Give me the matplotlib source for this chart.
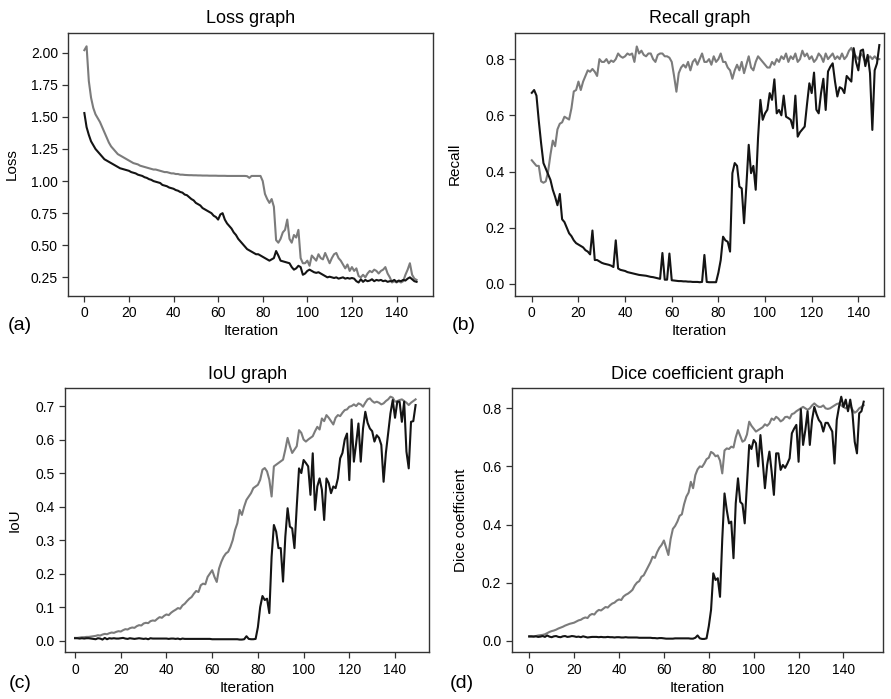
import matplotlib
matplotlib.use("Agg")
import matplotlib.pyplot as plt
import numpy as np

plt.rcParams['font.family'] = ['Liberation Sans', 'DejaVu Sans']

iterations = list(range(150))

loss_gray = [2.02, 2.05, 1.78, 1.65, 1.57, 1.52, 1.49, 1.46, 1.42, 1.38,
             1.34, 1.30, 1.27, 1.25, 1.23, 1.21, 1.20, 1.19, 1.18, 1.17,
             1.16, 1.15, 1.14, 1.135, 1.13, 1.12, 1.115, 1.11, 1.105, 1.10,
             1.095, 1.09, 1.09, 1.085, 1.08, 1.075, 1.07, 1.07, 1.065, 1.06,
             1.06, 1.055, 1.055, 1.05, 1.05, 1.048, 1.047, 1.046, 1.046, 1.045,
             1.045, 1.044, 1.044, 1.043, 1.043, 1.043, 1.042, 1.042, 1.042, 1.042,
             1.041, 1.041, 1.041, 1.041, 1.040, 1.040, 1.040, 1.040, 1.040, 1.040,
             1.040, 1.040, 1.040, 1.038, 1.025, 1.040, 1.040, 1.040, 1.040, 1.040,
             1.00, 0.90, 0.86, 0.83, 0.86, 0.80, 0.54, 0.52, 0.55, 0.60,
             0.62, 0.70, 0.55, 0.52, 0.58, 0.56, 0.62, 0.40, 0.36, 0.36,
             0.38, 0.34, 0.42, 0.40, 0.38, 0.43, 0.40, 0.39, 0.44, 0.40,
             0.36, 0.40, 0.43, 0.44, 0.40, 0.38, 0.35, 0.32, 0.35, 0.30,
             0.33, 0.30, 0.32, 0.26, 0.25, 0.27, 0.25, 0.28, 0.30, 0.29,
             0.31, 0.30, 0.28, 0.30, 0.31, 0.33, 0.28, 0.25, 0.21, 0.22,
             0.21, 0.22, 0.21, 0.22, 0.27, 0.31, 0.36, 0.27, 0.24, 0.23]

loss_black = [1.53, 1.42, 1.36, 1.31, 1.28, 1.25, 1.23, 1.21, 1.19, 1.17,
              1.16, 1.15, 1.14, 1.13, 1.12, 1.11, 1.10, 1.095, 1.09, 1.085,
              1.08, 1.07, 1.065, 1.06, 1.05, 1.045, 1.04, 1.03, 1.025, 1.015,
              1.01, 1.00, 0.995, 0.99, 0.985, 0.97, 0.965, 0.96, 0.95, 0.945,
              0.94, 0.93, 0.925, 0.915, 0.91, 0.895, 0.89, 0.875, 0.86, 0.85,
              0.83, 0.82, 0.81, 0.79, 0.78, 0.77, 0.76, 0.75, 0.73, 0.72,
              0.70, 0.74, 0.75, 0.70, 0.67, 0.65, 0.63, 0.60, 0.58, 0.55,
              0.53, 0.51, 0.49, 0.47, 0.46, 0.45, 0.44, 0.43, 0.43, 0.42,
              0.41, 0.40, 0.39, 0.38, 0.39, 0.40, 0.455, 0.42, 0.38, 0.375,
              0.37, 0.365, 0.36, 0.33, 0.31, 0.32, 0.34, 0.33, 0.27, 0.28,
              0.30, 0.31, 0.30, 0.29, 0.285, 0.29, 0.28, 0.27, 0.26, 0.25,
              0.255, 0.25, 0.245, 0.25, 0.24, 0.245, 0.25, 0.24, 0.245, 0.24,
              0.245, 0.24, 0.22, 0.21, 0.235, 0.215, 0.23, 0.22, 0.225, 0.235,
              0.22, 0.23, 0.225, 0.23, 0.22, 0.225, 0.215, 0.22, 0.22, 0.23,
              0.215, 0.225, 0.22, 0.23, 0.225, 0.24, 0.25, 0.235, 0.22, 0.215]

recall_gray = [0.44, 0.43, 0.42, 0.42, 0.365, 0.36, 0.365, 0.40, 0.46, 0.51,
               0.49, 0.55, 0.57, 0.575, 0.595, 0.59, 0.585, 0.625, 0.685, 0.69,
               0.72, 0.69, 0.72, 0.74, 0.76, 0.755, 0.765, 0.755, 0.74, 0.80,
               0.79, 0.79, 0.80, 0.785, 0.795, 0.79, 0.80, 0.82, 0.81, 0.805,
               0.81, 0.82, 0.815, 0.82, 0.79, 0.845, 0.82, 0.83, 0.815, 0.81,
               0.82, 0.82, 0.80, 0.79, 0.815, 0.82, 0.82, 0.81, 0.81, 0.805,
               0.79, 0.74, 0.684, 0.75, 0.77, 0.78, 0.77, 0.79, 0.76, 0.79,
               0.80, 0.78, 0.80, 0.82, 0.79, 0.79, 0.80, 0.78, 0.81, 0.79,
               0.80, 0.82, 0.79, 0.79, 0.77, 0.76, 0.73, 0.76, 0.78, 0.76,
               0.79, 0.75, 0.78, 0.81, 0.77, 0.76, 0.79, 0.81, 0.80, 0.79,
               0.78, 0.77, 0.77, 0.79, 0.78, 0.80, 0.79, 0.81, 0.80, 0.82,
               0.79, 0.81, 0.80, 0.82, 0.79, 0.80, 0.83, 0.81, 0.82, 0.80,
               0.81, 0.79, 0.80, 0.82, 0.81, 0.79, 0.82, 0.80, 0.81, 0.82,
               0.80, 0.81, 0.80, 0.82, 0.80, 0.81, 0.83, 0.84, 0.82, 0.81,
               0.80, 0.82, 0.81, 0.79, 0.80, 0.81, 0.80, 0.81, 0.80, 0.80]

recall_black = [0.68, 0.69, 0.67, 0.58, 0.50, 0.43, 0.41, 0.39, 0.37, 0.335,
                0.31, 0.28, 0.32, 0.23, 0.22, 0.20, 0.18, 0.17, 0.155, 0.145,
                0.14, 0.135, 0.13, 0.12, 0.115, 0.105, 0.19, 0.085, 0.085, 0.08,
                0.075, 0.072, 0.07, 0.068, 0.065, 0.06, 0.155, 0.055, 0.05, 0.048,
                0.046, 0.042, 0.04, 0.038, 0.036, 0.034, 0.032, 0.031, 0.03, 0.029,
                0.027, 0.025, 0.024, 0.022, 0.02, 0.018, 0.11, 0.015, 0.015, 0.108,
                0.013, 0.012, 0.011, 0.01, 0.01, 0.009, 0.009, 0.008, 0.008, 0.007,
                0.007, 0.007, 0.006, 0.007, 0.103, 0.007, 0.006, 0.006, 0.006, 0.006,
                0.04, 0.085, 0.168, 0.155, 0.15, 0.115, 0.394, 0.43, 0.42, 0.346,
                0.34, 0.216, 0.35, 0.495, 0.394, 0.42, 0.335, 0.52, 0.655, 0.584,
                0.607, 0.62, 0.679, 0.655, 0.728, 0.607, 0.619, 0.60, 0.67, 0.595,
                0.59, 0.584, 0.554, 0.67, 0.524, 0.54, 0.55, 0.56, 0.64, 0.714,
                0.679, 0.752, 0.62, 0.607, 0.679, 0.73, 0.619, 0.756, 0.773, 0.785,
                0.72, 0.667, 0.70, 0.695, 0.679, 0.74, 0.73, 0.72, 0.839, 0.79,
                0.76, 0.83, 0.834, 0.775, 0.815, 0.75, 0.548, 0.76, 0.785, 0.85]

iou_gray = [0.008, 0.008, 0.009, 0.01, 0.01, 0.011, 0.011, 0.012, 0.013, 0.014,
            0.016, 0.015, 0.018, 0.02, 0.019, 0.022, 0.024, 0.023, 0.026, 0.028,
            0.027, 0.031, 0.034, 0.033, 0.037, 0.039, 0.038, 0.043, 0.046, 0.045,
            0.051, 0.053, 0.052, 0.058, 0.06, 0.059, 0.065, 0.07, 0.068, 0.074,
            0.078, 0.076, 0.083, 0.088, 0.092, 0.097, 0.095, 0.105, 0.11, 0.118,
            0.125, 0.13, 0.14, 0.148, 0.145, 0.165, 0.17, 0.168, 0.19, 0.20,
            0.21, 0.19, 0.175, 0.215, 0.235, 0.25, 0.26, 0.265, 0.28, 0.30,
            0.33, 0.35, 0.39, 0.375, 0.40, 0.42, 0.43, 0.44, 0.455, 0.46,
            0.465, 0.48, 0.51, 0.515, 0.505, 0.48, 0.43, 0.52, 0.525, 0.53,
            0.535, 0.54, 0.57, 0.605, 0.58, 0.56, 0.57, 0.58, 0.628, 0.62,
            0.60, 0.594, 0.60, 0.605, 0.61, 0.625, 0.638, 0.63, 0.663, 0.655,
            0.673, 0.665, 0.655, 0.645, 0.665, 0.673, 0.67, 0.68, 0.688, 0.69,
            0.698, 0.70, 0.705, 0.70, 0.708, 0.705, 0.698, 0.71, 0.72, 0.723,
            0.715, 0.71, 0.713, 0.71, 0.705, 0.708, 0.715, 0.72, 0.728, 0.725,
            0.713, 0.715, 0.718, 0.72, 0.715, 0.71, 0.703, 0.71, 0.715, 0.72]

iou_black = [0.007, 0.007, 0.006, 0.007, 0.006, 0.007, 0.007, 0.006, 0.005, 0.004,
             0.007, 0.006, 0.003, 0.008, 0.004, 0.007, 0.006, 0.007, 0.006, 0.006,
             0.007, 0.008, 0.006, 0.005, 0.007, 0.006, 0.005, 0.006, 0.007, 0.006,
             0.005, 0.006, 0.004, 0.007, 0.006, 0.006, 0.006, 0.006, 0.006, 0.006,
             0.006, 0.005, 0.006, 0.006, 0.005, 0.006, 0.004, 0.006, 0.005, 0.005,
             0.005, 0.005, 0.005, 0.005, 0.005, 0.005, 0.005, 0.005, 0.005, 0.005,
             0.004, 0.004, 0.004, 0.004, 0.004, 0.004, 0.004, 0.004, 0.004, 0.004,
             0.004, 0.004, 0.003, 0.003, 0.004, 0.013, 0.005, 0.004, 0.004, 0.005,
             0.04, 0.10, 0.133, 0.121, 0.125, 0.082, 0.25, 0.345, 0.325, 0.276,
             0.276, 0.176, 0.31, 0.395, 0.34, 0.335, 0.276, 0.40, 0.514, 0.50,
             0.539, 0.53, 0.52, 0.435, 0.559, 0.39, 0.46, 0.484, 0.45, 0.36,
             0.484, 0.47, 0.44, 0.46, 0.455, 0.484, 0.544, 0.56, 0.60, 0.618,
             0.479, 0.66, 0.534, 0.589, 0.648, 0.534, 0.633, 0.683, 0.65, 0.633,
             0.625, 0.594, 0.613, 0.605, 0.584, 0.474, 0.56, 0.618, 0.678, 0.718,
             0.665, 0.713, 0.713, 0.653, 0.713, 0.564, 0.514, 0.653, 0.655, 0.703]

dice_gray = [0.014, 0.014, 0.015, 0.016, 0.018, 0.019, 0.02, 0.022, 0.026, 0.03,
             0.033, 0.035, 0.038, 0.042, 0.045, 0.048, 0.052, 0.055, 0.058, 0.06,
             0.062, 0.066, 0.07, 0.072, 0.077, 0.08, 0.078, 0.088, 0.092, 0.09,
             0.10, 0.106, 0.104, 0.11, 0.116, 0.114, 0.122, 0.128, 0.131, 0.138,
             0.142, 0.14, 0.152, 0.158, 0.162, 0.168, 0.175, 0.19, 0.20, 0.205,
             0.22, 0.225, 0.24, 0.255, 0.27, 0.289, 0.285, 0.305, 0.32, 0.33,
             0.345, 0.32, 0.295, 0.35, 0.385, 0.395, 0.41, 0.43, 0.435, 0.47,
             0.496, 0.51, 0.547, 0.525, 0.57, 0.59, 0.60, 0.598, 0.61, 0.625,
             0.63, 0.65, 0.645, 0.635, 0.638, 0.62, 0.576, 0.655, 0.662, 0.66,
             0.668, 0.665, 0.70, 0.725, 0.705, 0.685, 0.69, 0.71, 0.754, 0.74,
             0.73, 0.72, 0.725, 0.73, 0.735, 0.745, 0.74, 0.748, 0.765, 0.76,
             0.771, 0.765, 0.755, 0.76, 0.77, 0.771, 0.765, 0.78, 0.783, 0.79,
             0.795, 0.80, 0.805, 0.80, 0.795, 0.80, 0.81, 0.817, 0.81, 0.805,
             0.805, 0.81, 0.80, 0.798, 0.80, 0.805, 0.81, 0.815, 0.817, 0.81,
             0.805, 0.80, 0.805, 0.81, 0.795, 0.785, 0.79, 0.80, 0.805, 0.811]

dice_black = [0.015, 0.015, 0.014, 0.015, 0.013, 0.014, 0.016, 0.013, 0.018, 0.014,
              0.012, 0.015, 0.016, 0.013, 0.012, 0.015, 0.016, 0.013, 0.014, 0.016,
              0.015, 0.013, 0.014, 0.012, 0.015, 0.013, 0.011, 0.012, 0.013, 0.013,
              0.013, 0.012, 0.013, 0.012, 0.012, 0.013, 0.012, 0.012, 0.011, 0.012,
              0.012, 0.011, 0.011, 0.012, 0.011, 0.011, 0.011, 0.011, 0.011, 0.01,
              0.01, 0.01, 0.01, 0.01, 0.01, 0.009, 0.009, 0.008, 0.009, 0.009,
              0.008, 0.007, 0.007, 0.007, 0.007, 0.008, 0.008, 0.008, 0.008, 0.008,
              0.008, 0.008, 0.007, 0.007, 0.01, 0.018, 0.008, 0.006, 0.006, 0.008,
              0.05, 0.106, 0.232, 0.209, 0.215, 0.151, 0.35, 0.507, 0.45, 0.404,
              0.41, 0.284, 0.473, 0.559, 0.478, 0.47, 0.404, 0.542, 0.674, 0.66,
              0.691, 0.68, 0.60, 0.708, 0.62, 0.525, 0.605, 0.651, 0.582, 0.502,
              0.645, 0.645, 0.588, 0.605, 0.595, 0.61, 0.628, 0.714, 0.73, 0.743,
              0.616, 0.797, 0.674, 0.725, 0.79, 0.674, 0.76, 0.805, 0.78, 0.76,
              0.75, 0.72, 0.75, 0.75, 0.735, 0.72, 0.61, 0.76, 0.805, 0.84,
              0.805, 0.83, 0.79, 0.83, 0.783, 0.685, 0.645, 0.783, 0.79, 0.823]

titles = ["Loss graph", "Recall graph", "IoU graph", "Dice coefficient graph"]
ylabels = ["Loss", "Recall", "IoU", "Dice coefficient"]
panel_tags = ["(a)", "(b)", "(c)", "(d)"]
x_ticks = [0, 20, 40, 60, 80, 100, 120, 140]
loss_ticks = [0.25, 0.50, 0.75, 1.00, 1.25, 1.50, 1.75, 2.00]
recall_ticks = [0.0, 0.2, 0.4, 0.6, 0.8]
iou_ticks = [0.0, 0.1, 0.2, 0.3, 0.4, 0.5, 0.6, 0.7]
dice_ticks = [0.0, 0.2, 0.4, 0.6, 0.8]

W, H = 891, 699
fig = plt.figure(figsize=(W / 100, H / 100), dpi=100)

def px_axes(l, t, r, b):
    return fig.add_axes([l / W, 1 - b / H, (r - l) / W, (b - t) / H])

GRAY = '#7b7b7b'
BLACK = '#141414'

specs = [
    dict(box=(68.3, 32.7, 433.3, 295.7), g=loss_gray, k=loss_black, xlim=(-7.2, 156.5),
         ylim=(0.107, 2.156), yt=loss_ticks, fmt="{:.2f}", ylx=12, tag=(20, 325)),
    dict(box=(515, 32.7, 884, 295.7), g=recall_gray, k=recall_black, xlim=(-7.2, 151.0),
         ylim=(-0.042, 0.894), yt=recall_ticks, fmt="{:.1f}", ylx=455, tag=(464, 325)),
    dict(box=(65, 388.3, 429.3, 652.3), g=iou_gray, k=iou_black, xlim=(-4.4, 155.0),
         ylim=(-0.035, 0.753), yt=iou_ticks, fmt="{:.1f}", ylx=15, tag=(20, 684)),
    dict(box=(511.7, 388.3, 883, 652.3), g=dice_gray, k=dice_black, xlim=(-7.8, 157.6),
         ylim=(-0.04, 0.869), yt=dice_ticks, fmt="{:.1f}", ylx=461, tag=(462, 684)),
]

for i, s in enumerate(specs):
    l, t, r, b = s['box']
    ax = px_axes(l, t, r, b)
    ax.plot(iterations, s['g'], color=GRAY, lw=1.5)
    ax.plot(iterations, s['k'], color=BLACK, lw=1.5)
    ax.set_xlim(*s['xlim'])
    ax.set_ylim(*s['ylim'])
    ax.set_xticks(x_ticks)
    ax.set_xticklabels([str(v) for v in x_ticks])
    ax.set_yticks(s['yt'])
    ax.set_yticklabels([s['fmt'].format(v) for v in s['yt']])
    ax.tick_params(labelsize=10, length=4, width=0.9, color='#333333')
    for sp in ax.spines.values():
        sp.set_color('#333333')
        sp.set_linewidth(1.0)
    ax.set_title(titles[i], fontsize=13, pad=7)
    ax.set_xlabel("Iteration", fontsize=11)
    ax.xaxis.set_label_coords(0.5, (b - (331 if i < 2 else 688)) / (b - t))
    ax.xaxis.label.set_verticalalignment('center')
    ax.set_ylabel(ylabels[i], fontsize=11)
    ax.yaxis.set_label_coords((s['ylx'] - l) / (r - l), 0.5)
    ax.yaxis.label.set_verticalalignment('center')
    fig.text(s['tag'][0] / W, 1 - s['tag'][1] / H, panel_tags[i], fontsize=14,
             ha='center', va='center')

fig.savefig("out.png", dpi=100)
